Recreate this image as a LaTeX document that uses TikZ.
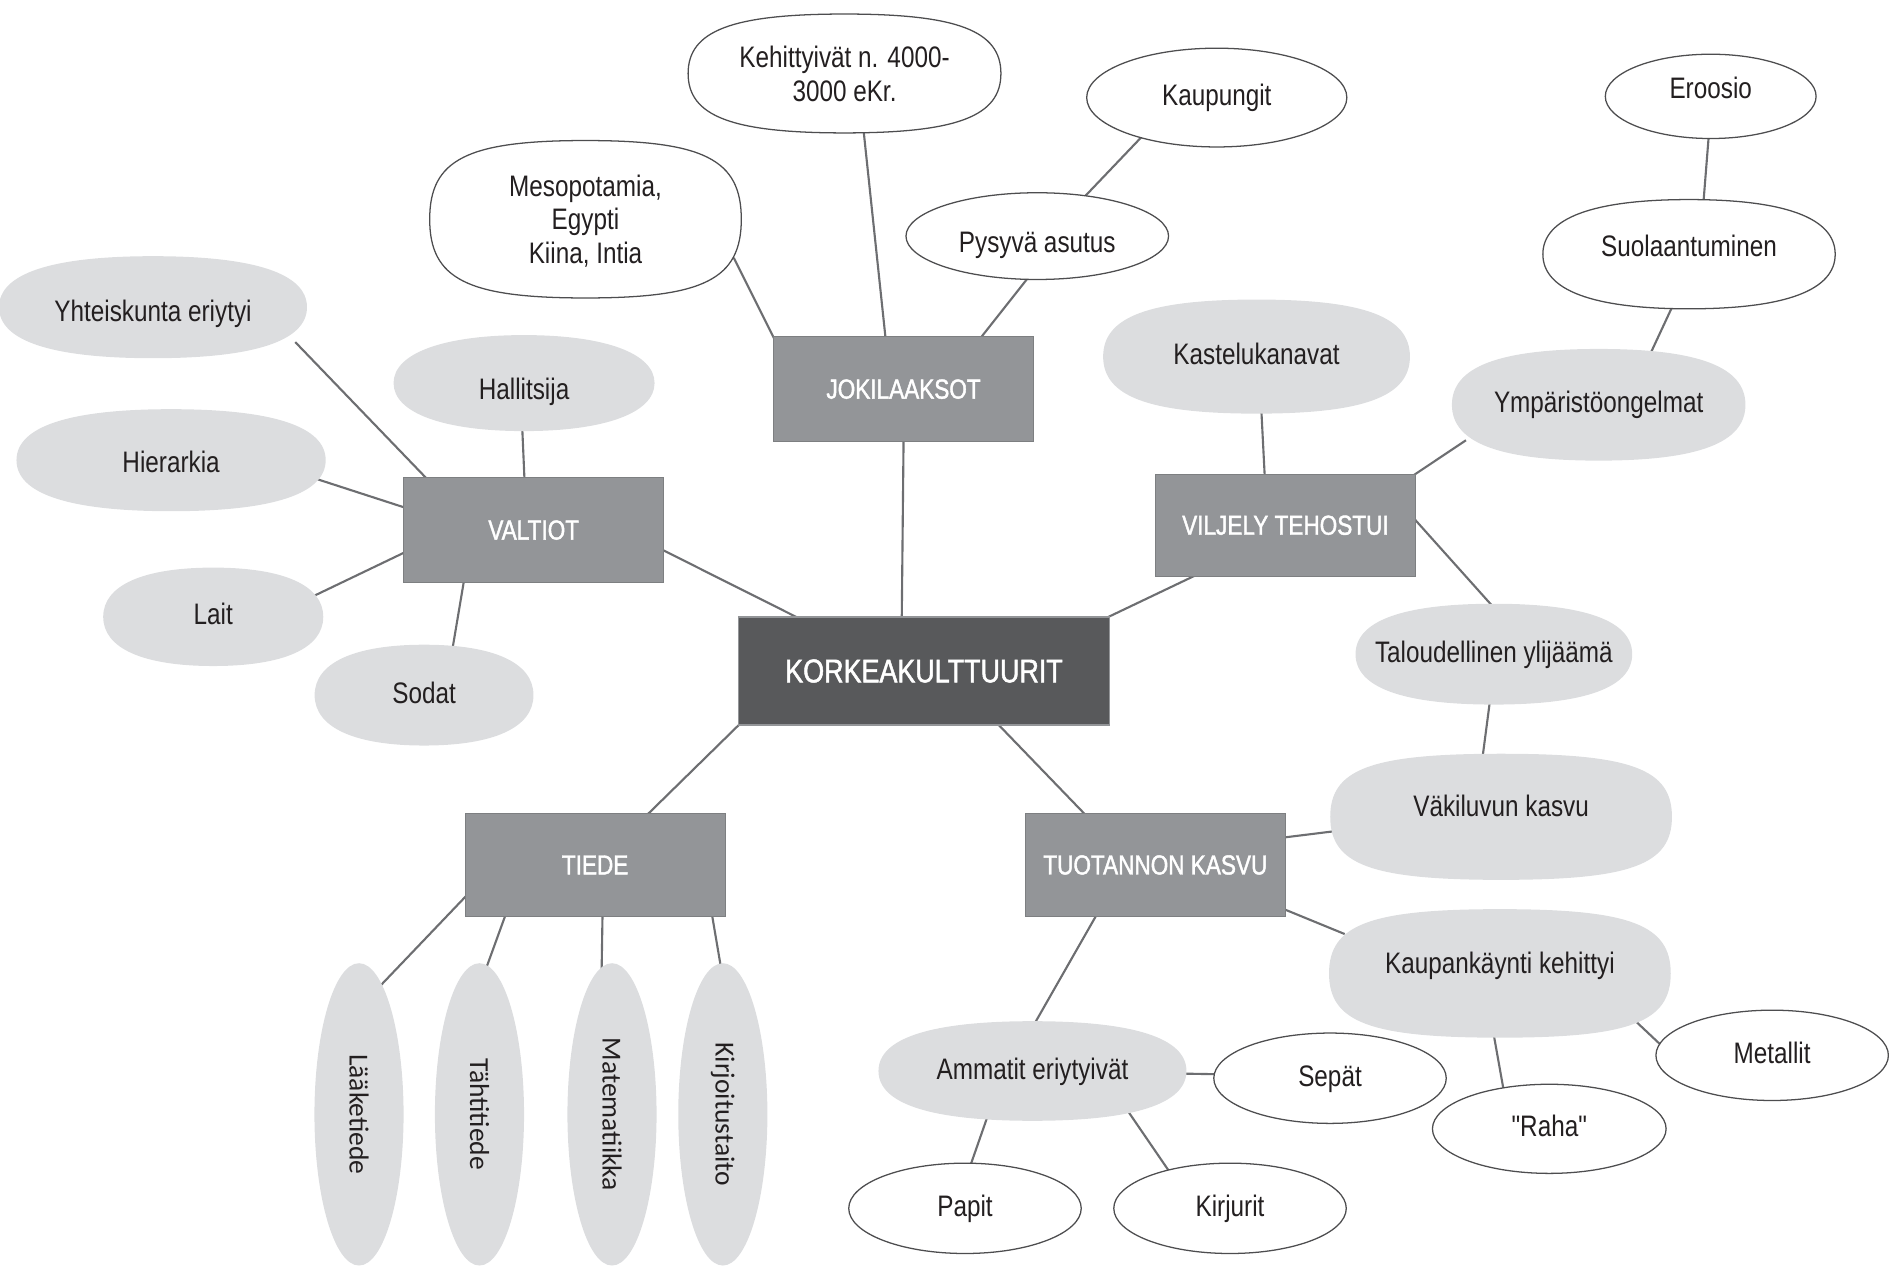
\documentclass[tikz,border=0pt]{standalone}
\usepackage{fontspec}
\setmainfont{Liberation Sans}[FakeStretch=0.82]
\newfontfamily\suorafont{Liberation Sans}[FakeStretch=0.82]
\newfontfamily\laatikkofont{Liberation Sans}[FakeStretch=0.82, FakeBold=1.5]
\newfontfamily\pystyfont{Carlito}
\usepackage{graphicx}
\usetikzlibrary{shapes.geometric,backgrounds,calc}

\definecolor{tumma}{HTML}{58595B}
\definecolor{keski}{HTML}{939598}
\definecolor{vaalea}{HTML}{DCDDDF}
\definecolor{viiva}{HTML}{6D6E71}
\definecolor{reuna}{HTML}{4D4D4F}
\definecolor{teksti}{HTML}{231F20}

\tikzset{
  paa/.style={rectangle, fill=tumma, draw=keski, line width=0.8pt, text=white, font=\laatikkofont\fontsize{15.5}{18}\selectfont, inner sep=0pt},
  laatikko/.style={rectangle, fill=keski, draw=keski!85!black, line width=0.4pt, text=white, font=\laatikkofont\fontsize{13}{15}\selectfont, minimum width=4.32cm, minimum height=1.74cm, inner sep=0pt},
  harmaa/.style={rectangle, text=teksti, font=\fontsize{14}{16}\selectfont, inner sep=0pt, align=center, text height=0.37cm, text depth=0.1cm},
  valkoinen/.style={ellipse, draw=reuna, line width=0.6pt, fill=white, text=teksti, font=\fontsize{14}{16}\selectfont, inner sep=0pt, align=center, text height=0.37cm, text depth=0.1cm},
  pysty/.style={ellipse, fill=vaalea, text=teksti, font=\pystyfont\fontsize{13}{15}\selectfont, minimum width=1.48cm, minimum height=5.02cm, inner sep=0pt},
  yhteys/.style={draw=viiva, line width=1pt, shorten <=-8pt, shorten >=-8pt},
  nosto/.style={text depth=#1},
  lasku/.style={text height=#1},
  monirivi/.style={text height=, text depth=#1},
  valkokupla/.style={fill=white, draw=reuna, line width=0.6pt}
}

% Forma redondeada alrededor de un nodo: #2 nombre, #3 redondez
\newcommand{\kupla}[3][fill=vaalea]{%
  \path[#1] (#2.east)
    .. controls ($(#2.east)!#3!(#2.north east)$) and ($(#2.north)!#3!(#2.north east)$) .. (#2.north)
    .. controls ($(#2.north)!#3!(#2.north west)$) and ($(#2.west)!#3!(#2.north west)$) .. (#2.west)
    .. controls ($(#2.west)!#3!(#2.south west)$) and ($(#2.south)!#3!(#2.south west)$) .. (#2.south)
    .. controls ($(#2.south)!#3!(#2.south east)$) and ($(#2.east)!#3!(#2.south east)$) .. (#2.east) -- cycle;}

\begin{document}
\begin{tikzpicture}[x=0.02cm, y=-0.02cm]
            % Marco de la figura
            \useasboundingbox (0,0) rectangle (1568,1053); % Fija el tamaño total

            % Nodo central
            \node[paa, minimum width=6.16cm, minimum height=1.8cm] (korkea) at (767,557) {KORKEAKULTTUURIT}; % Caja oscura

            % Ramas principales
            \node[laatikko] (joki) at (750,323) {JOKILAAKSOT}; % Arriba
            \node[laatikko] (valtiot) at (443,440) {VALTIOT}; % Izquierda
            \node[laatikko, minimum height=1.7cm] (viljely) at (1067,436) {VILJELY TEHOSTUI}; % Derecha
            \node[laatikko, minimum height=1.72cm] (tiede) at (494,718) {TIEDE}; % Abajo izquierda
            \node[laatikko, minimum height=1.72cm] (tuotanto) at (959,718) {TUOTANNON KASVU}; % Abajo derecha

            % JOKILAAKSOT
            \node[harmaa, monirivi=-0.12cm, minimum width=5.16cm, minimum height=2.6cm] (meso) at (486,182) {Mesopotamia,\\Egypti\\Kiina, Intia};
            \node[harmaa, monirivi=-0.18cm, minimum width=5.18cm, minimum height=1.96cm] (kehitys) at (701,61) {Kehittyivät n. 4000-\\3000 eKr.};
            \node[valkoinen, lasku=0.64cm, minimum width=4.36cm, minimum height=1.44cm] (asutus) at (861,196) {Pysyvä asutus};
            \node[valkoinen, minimum width=4.32cm, minimum height=1.64cm] (kaupungit) at (1010,81) {Kaupungit};

            % VALTIOT
            \node[harmaa, lasku=0.58cm, minimum width=5.1cm, minimum height=1.68cm] (yhteiskunta) at (127,255) {Yhteiskunta eriytyi};
            \node[harmaa, lasku=0.64cm, minimum width=4.32cm, minimum height=1.58cm] (hallitsija) at (435,318) {Hallitsija};
            \node[harmaa, lasku=0.5cm, minimum width=5.12cm, minimum height=1.68cm] (hierarkia) at (142,382) {Hierarkia};
            \node[harmaa, minimum width=3.64cm, minimum height=1.62cm] (lait) at (177,512) {Lait};
            \node[harmaa, minimum width=3.62cm, minimum height=1.66cm] (sodat) at (352,577) {Sodat};

            % VILJELY TEHOSTUI
            \node[harmaa, minimum width=5.08cm, minimum height=1.88cm] (kastelu) at (1043,296) {Kastelukanavat};
            \node[harmaa, minimum width=4.86cm, minimum height=1.84cm] (ymparisto) at (1327,336) {Ympäristöongelmat};
            \node[harmaa, minimum width=4.84cm, minimum height=1.8cm, nosto=0.3cm] (suola) at (1402,211) {Suolaantuminen};
            \node[valkoinen, minimum width=3.5cm, minimum height=1.4cm, nosto=0.3cm] (eroosio) at (1420,80) {Eroosio};
            \node[harmaa, minimum width=4.58cm, minimum height=1.66cm] (ylijaama) at (1240,543) {Taloudellinen ylijäämä};

            % TUOTANNON KASVU
            \node[harmaa, minimum width=5.66cm, minimum height=2.08cm, nosto=0.37cm] (vakiluku) at (1246,678) {Väkiluvun kasvu};
            \node[harmaa, minimum width=5.66cm, minimum height=2.12cm, nosto=0.37cm] (kauppa) at (1245,808) {Kaupankäynti kehittyi};
            \node[valkoinen, minimum width=3.86cm, minimum height=1.5cm] (metallit) at (1471,876) {Metallit};
            \node[valkoinen, minimum width=3.88cm, minimum height=1.48cm] (raha) at (1286,937) {\suorafont"Raha"};
            \node[harmaa, minimum width=5.1cm, minimum height=1.64cm] (ammatit) at (857,889) {Ammatit eriytyivät};
            \node[valkoinen, minimum width=3.86cm, minimum height=1.5cm] (sepat) at (1104,895) {Sepät};
            \node[valkoinen, minimum width=3.86cm, minimum height=1.5cm] (papit) at (801,1003) {Papit};
            \node[valkoinen, minimum width=3.86cm, minimum height=1.5cm] (kirjurit) at (1021,1003) {Kirjurit};

            % TIEDE
            \node[pysty] (laake) at (298,925) {\rotatebox{-90}{Lääketiede}};
            \node[pysty] (tahti) at (398,925) {\rotatebox{-90}{Tähtitiede}};
            \node[pysty] (mate) at (508,925) {\rotatebox{-90}{Matematiikka}};
            \node[pysty] (kirjoitus) at (600,925) {\rotatebox{-90}{Kirjoitustaito}};

            % Conexiones y fondos (detrás del texto)
            \begin{scope}[on background layer]
            \draw[yhteys] (joki.-90) -- (korkea.112); % Centro
            \draw[yhteys] (valtiot.-9.5) -- (korkea.157);
            \draw[yhteys] (viljely.-151) -- (korkea.north east);
            \draw[yhteys] (tiede.44) -- (korkea.south west);
            \draw[yhteys] (tuotanto.144) -- (korkea.-36);
            \draw[yhteys] (meso.-19) -- (joki.north west); % JOKILAAKSOT
            \draw[yhteys] (kehitys.-72) -- (joki.109);
            \draw[yhteys] (asutus.-104) -- (joki.34);
            \draw[yhteys] (asutus.40) -- (kaupungit.-152);
            \draw[yhteys] (yhteiskunta.-17) -- (valtiot.154); % VALTIOT
            \draw[yhteys] (hallitsija.-92) -- (valtiot.100);
            \draw[yhteys] (hierarkia.-8) -- (valtiot.170);
            \draw[yhteys] (lait.13) -- (valtiot.-170);
            \draw[yhteys] (sodat.60) -- (valtiot.-143);
            \draw[yhteys] (kastelu.-85) -- (viljely.112); % VILJELY TEHOSTUI
            \draw[yhteys] (ymparisto.-163) -- (viljely.north east);
            \draw[yhteys] (ymparisto.46) -- (suola.-108);
            \draw[yhteys] (suola.75) -- (eroosio.-93);
            \draw[yhteys] (viljely.2) -- (ylijaama.94);
            \draw[yhteys] (ylijaama.-95) -- (vakiluku.106);
            \draw[yhteys] (tuotanto.12) -- (vakiluku.-175); % TUOTANNON KASVU
            \draw[yhteys] (tuotanto.-19) -- (kauppa.165);
            \draw[yhteys] (tuotanto.-139) -- (ammatit.86);
            \draw[yhteys] ($(kauppa.center)+(113,40)$) -- (metallit.174);
            \draw[yhteys] (kauppa.-95) -- (raha.138);
            \draw[yhteys] (ammatit.-1) -- (sepat.178);
            \draw[yhteys] (ammatit.-133) -- (papit.82);
            \draw[yhteys] (ammatit.-26) -- (kirjurit.148);
            \draw[yhteys] (tiede.-166) -- (laake.80); % TIEDE
            \draw[yhteys] (tiede.-150) -- (tahti.87);
            \draw[yhteys] (tiede.-82) -- (mate.94);
            \draw[yhteys] (tiede.-24) -- (kirjoitus.91);

            % Fondos redondeados
            \kupla[valkokupla]{meso}{0.76} % Blancos con borde
            \kupla[valkokupla]{kehitys}{0.72}
            \kupla[valkokupla]{suola}{0.66}
            \kupla{yhteiskunta}{0.66} % Grises
            \kupla{hallitsija}{0.62}
            \kupla{hierarkia}{0.66}
            \kupla{lait}{0.64}
            \kupla{sodat}{0.64}
            \kupla{kastelu}{0.7}
            \kupla{ymparisto}{0.68}
            \kupla{ylijaama}{0.66}
            \kupla{vakiluku}{0.76}
            \kupla{kauppa}{0.76}
            \kupla{ammatit}{0.66}
            \end{scope}
\end{tikzpicture}
\end{document}
